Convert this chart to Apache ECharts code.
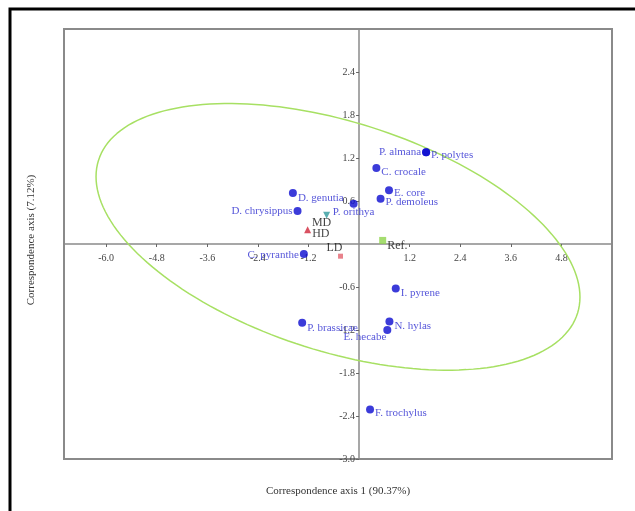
<!DOCTYPE html>
<html>
<head>
<meta charset="utf-8">
<script src="https://cdn.jsdelivr.net/npm/echarts@6/dist/echarts.min.js"></script>
<style>
  html, body { margin: 0; padding: 0; background: #fff; }
  #chart { width: 635px; height: 511px; }
</style>
</head>
<body>
<div id="chart"></div>
<script>
// Tick labels on the two correspondence axes
const xTickValues = [-6.0, -4.8, -3.6, -2.4, -1.2, 1.2, 2.4, 3.6, 4.8];
const yTickValues = [-3.0, -2.4, -1.8, -1.2, -0.6, 0.6, 1.2, 1.8, 2.4];

// Butterfly species scores (row points)
const species = ['P. almana', 'P. polytes', 'C. crocale', 'E. core', 'P. demoleus', 'P. orithya',
  'D. genutia', 'D. chrysippus', 'C. pyranthe', 'I. pyrene', 'N. hylas', 'E. hecabe',
  'P. brassicae', 'F. trochylus'];
const speciesAxis1 = [1.59, 1.59, 0.41, 0.71, 0.51, -0.13, -1.57, -1.46, -1.31, 0.87, 0.72, 0.67, -1.35, 0.26];
const speciesAxis2 = [1.28, 1.28, 1.06, 0.75, 0.63, 0.56, 0.71, 0.46, -0.14, -0.62, -1.08, -1.20, -1.10, -2.31];

// Disturbance classes (column points)
const habitats = ['MD', 'HD', 'LD', 'Ref.'];
const habitatAxis1 = [-0.77, -1.22, -0.44, 0.56];
const habitatAxis2 = [0.40, 0.20, -0.17, 0.05];

// 95% ellipse: centre plus two conjugate semi-diameters (axis units)
const ellipseCentre = [-0.5, 0.1];
const ellipseSemiA = [5.74, -0.84];
const ellipseSemiB = [0.0, 1.66];

// Label placement for each point name
const speciesLabelPlace = {
  'P. almana':    { position: 'left',  offset: [0, 0] },
  'P. polytes':   { position: 'right', offset: [0, 3] },
  'C. crocale':   { position: 'right', offset: [0, 4] },
  'E. core':      { position: 'right', offset: [0, 3] },
  'P. demoleus':  { position: 'right', offset: [0, 3] },
  'P. orithya':   { position: 'inside', offset: [0, 8] },
  'D. genutia':   { position: 'right', offset: [0, 5] },
  'D. chrysippus':{ position: 'left',  offset: [0, 0] },
  'C. pyranthe':  { position: 'left',  offset: [0, 1] },
  'I. pyrene':    { position: 'right', offset: [0, 5] },
  'N. hylas':     { position: 'right', offset: [0, 5] },
  'E. hecabe':    { position: 'left',  offset: [4, 7] },
  'P. brassicae': { position: 'right', offset: [0, 5] },
  'F. trochylus': { position: 'right', offset: [0, 4] }
};
const habitatStyle = {
  'MD':   { symbol: 'triangle', rotate: 180, size: 7, color: '#2f9a9c', position: 'inside', offset: [-5, 8] },
  'HD':   { symbol: 'triangle', rotate: 0,   size: 7, color: '#d0263a', position: 'right',  offset: [0, 4] },
  'LD':   { symbol: 'rect',     rotate: 0,   size: 5, color: '#e2636e', position: 'inside', offset: [-6, -8] },
  'Ref.': { symbol: 'rect',     rotate: 0,   size: 7, color: '#8fd44c', position: 'right',  offset: [0, 5] }
};

const serif = "'Liberation Serif', 'Times New Roman', serif";

const ellipsePoints = [];
for (let i = 0; i <= 180; i++) {
  const t = (i / 180) * Math.PI * 2;
  ellipsePoints.push([
    ellipseCentre[0] + ellipseSemiA[0] * Math.cos(t) + ellipseSemiB[0] * Math.sin(t),
    ellipseCentre[1] + ellipseSemiA[1] * Math.cos(t) + ellipseSemiB[1] * Math.sin(t)
  ]);
}

const speciesData = species.map((name, i) => ({
  name: name,
  value: [speciesAxis1[i], speciesAxis2[i]],
  label: {
    position: speciesLabelPlace[name].position,
    offset: speciesLabelPlace[name].offset
  }
}));

const habitatData = habitats.map((name, i) => {
  const s = habitatStyle[name];
  return {
    name: name,
    value: [habitatAxis1[i], habitatAxis2[i]],
    symbol: s.symbol,
    symbolRotate: s.rotate,
    symbolSize: s.size,
    itemStyle: { color: s.color },
    label: { position: s.position, offset: s.offset }
  };
});

const axisColor = '#8a8a8a';
const gridBox = { left: 64, right: 23, top: 29, bottom: 52 };

const chart = echarts.init(document.getElementById('chart'), null, { renderer: 'canvas' });
chart.setOption({
  animation: false,
  backgroundColor: '#ffffff',
  grid: Object.assign({
    show: true, borderColor: axisColor, borderWidth: 2, backgroundColor: 'transparent'
  }, gridBox),
  xAxis: {
    type: 'value', min: -7, max: 6, position: 'bottom',
    axisLine: { onZero: false, lineStyle: { color: axisColor, width: 1.5 } },
    axisTick: { show: true, length: 3, customValues: xTickValues, lineStyle: { color: '#666', width: 1 } },
    axisLabel: {
      customValues: xTickValues, margin: 9,
      formatter: v => v.toFixed(1),
      color: '#444', fontFamily: serif, fontSize: 10
    },
    splitLine: { show: false }
  },
  yAxis: {
    type: 'value', min: -3, max: 3, position: 'left',
    axisLine: { onZero: false, lineStyle: { color: axisColor, width: 1.5 } },
    axisTick: { show: true, length: 3, customValues: yTickValues, lineStyle: { color: '#666', width: 1 } },
    axisLabel: {
      customValues: yTickValues, margin: 4,
      formatter: v => v.toFixed(1),
      color: '#444', fontFamily: serif, fontSize: 10
    },
    splitLine: { show: false }
  },
  graphic: [
    {
      type: 'rect', silent: true,
      shape: { x: 10, y: 9, width: 700, height: 600 },
      style: { fill: 'none', stroke: '#000', lineWidth: 3 }
    },
    {
      type: 'text', silent: true, x: 338, y: 491,
      style: {
        text: 'Correspondence axis 1 (90.37%)', fill: '#333',
        font: "11px 'Liberation Serif', 'Times New Roman', serif",
        textAlign: 'center', textVerticalAlign: 'middle'
      }
    },
    {
      type: 'text', silent: true, x: 31, y: 240, rotation: Math.PI / 2,
      style: {
        text: 'Correspondence axis (7.12%)', fill: '#333',
        font: "11px 'Liberation Serif', 'Times New Roman', serif",
        textAlign: 'center', textVerticalAlign: 'middle'
      }
    }
  ],
  series: [
    {
      name: 'ellipse', type: 'line', data: ellipsePoints,
      showSymbol: false, smooth: false, silent: true, z: 1,
      lineStyle: { color: '#a7e063', width: 1.5 }
    },
    {
      name: 'species', type: 'scatter', data: speciesData, z: 3,
      symbol: 'circle', symbolSize: 8,
      itemStyle: { color: '#0a0ad0' },
      label: {
        show: true, formatter: '{b}', distance: 1,
        color: '#2a2ad0', fontFamily: serif, fontSize: 11
      }
    },
    {
      name: 'habitat', type: 'scatter', data: habitatData, z: 4,
      label: {
        show: true, formatter: '{b}', distance: 1,
        color: '#111', fontFamily: serif, fontSize: 12
      }
    }
  ]
});

// Move both axes so they cross at the origin, labels included
const origin = chart.convertToPixel({ gridIndex: 0 }, [0, 0]);
const chartH = chart.getHeight();
chart.setOption({
  xAxis: { offset: -((chartH - gridBox.bottom) - origin[1]) },
  yAxis: { offset: -(origin[0] - gridBox.left) }
});
</script>
</body>
</html>
